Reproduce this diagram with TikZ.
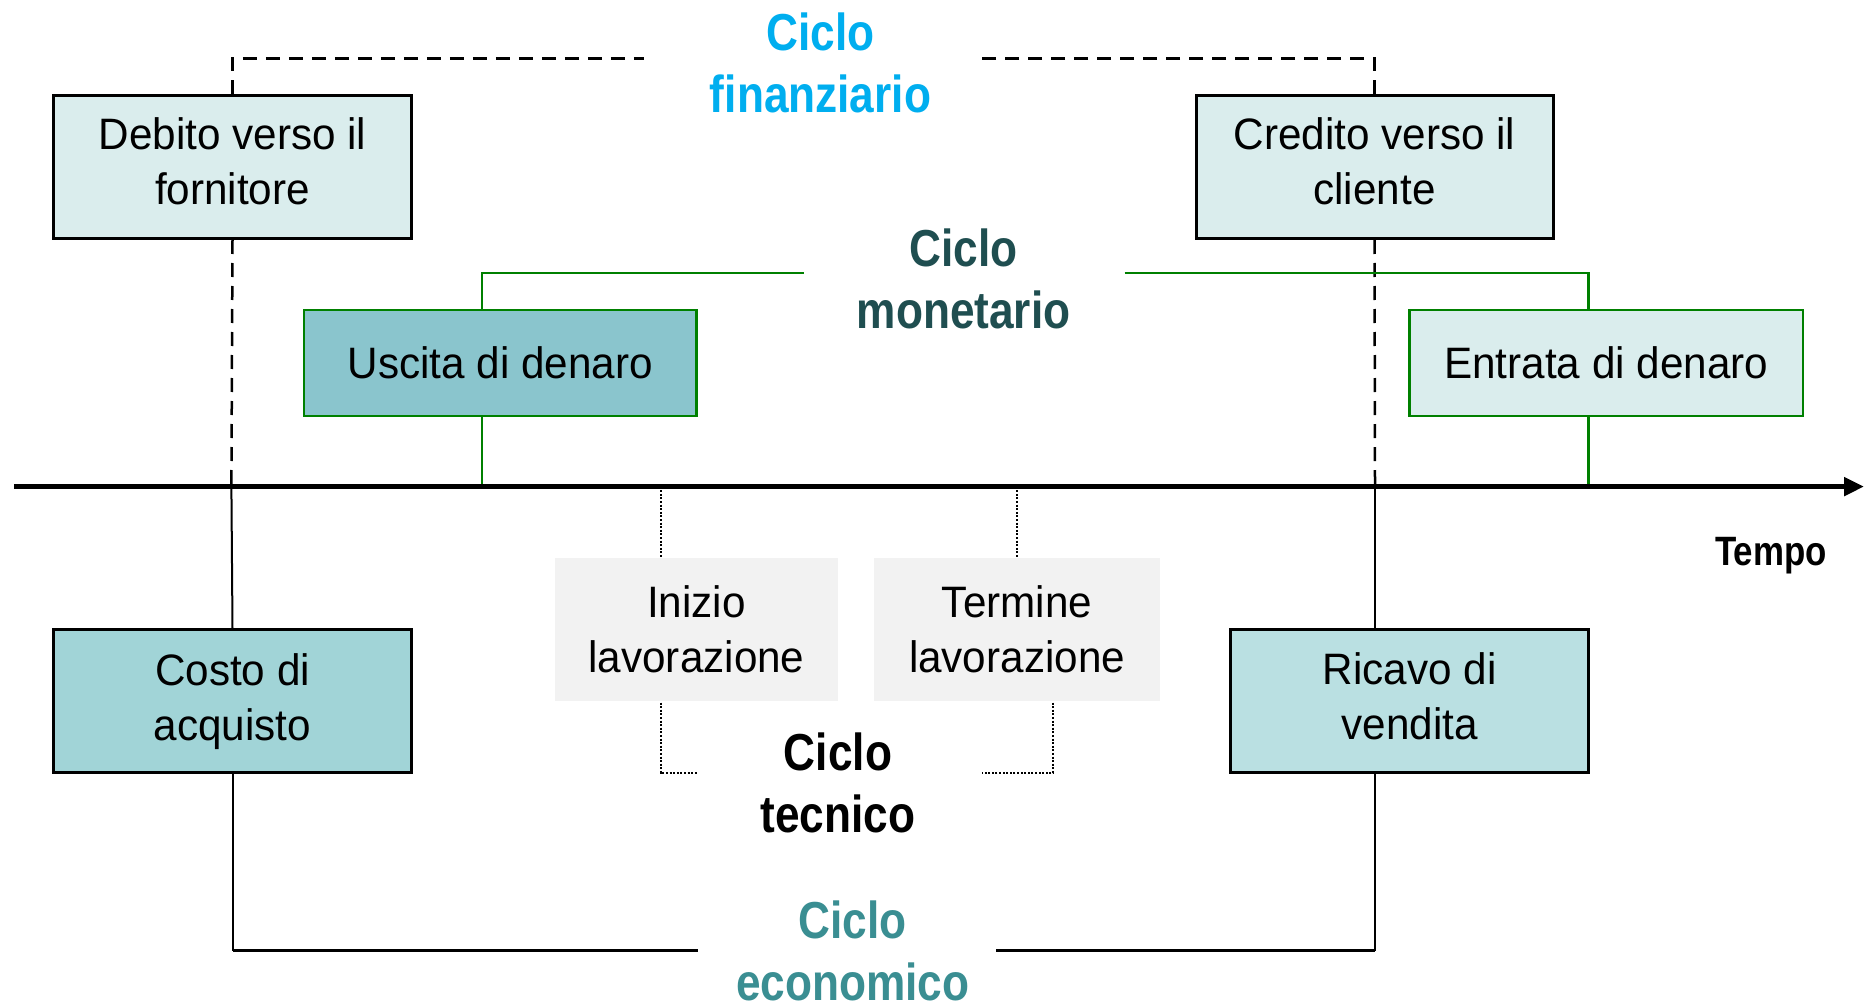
\documentclass[tikz,border=0pt]{standalone}
\usepackage{fontspec}
\setmainfont{Liberation Sans}
\newfontfamily\boxfont{Liberation Sans}[FakeStretch=0.96]
\newfontfamily\headfont{Liberation Sans}[FakeStretch=0.85]
\usetikzlibrary{arrows.meta}
\definecolor{mgreen}{HTML}{008000}
\definecolor{cfin}{HTML}{00AEEF}
\definecolor{cmon}{HTML}{1F4E50}
\definecolor{ceco}{HTML}{3A8E92}
\definecolor{flight}{HTML}{DAEDED}
\definecolor{fusc}{HTML}{8AC5CD}
\definecolor{fcos}{HTML}{A1D4D7}
\definecolor{fric}{HTML}{BAE0E2}
\definecolor{fgray}{HTML}{F2F2F2}
\tikzset{
  box/.style={draw=black, line width=3pt, inner sep=0pt, align=center,
    font=\boxfont\fontsize{44}{55}\selectfont},
  gbox/.style={box, draw=mgreen, line width=2.5pt},
  tbox/.style={box, draw=none},
  head/.style={align=center, font=\headfont\bfseries\fontsize{52}{62}\selectfont},
  dashline/.style={line width=2.5pt, dash pattern=on 14pt off 9pt},
  solidline/.style={line width=2pt},
  dotline/.style={line width=2pt, dash pattern=on 2pt off 1.6pt},
  greenline/.style={draw=mgreen, line width=2.5pt},
}
\begin{document}
\begin{tikzpicture}[x=1pt,y=-1pt]
\useasboundingbox (0,0) rectangle (1870,1008);
% coordinates
\coordinate (axS) at (14,486.6);
\coordinate (axE) at (1864,486.6);
\coordinate (axL) at (231.4,486.6);
\coordinate (axR) at (1375,486.6);
\coordinate (finL) at (644,58.4);
\coordinate (finR) at (980,58.4);
\coordinate (ecoL) at (697.7,950.5);
\coordinate (ecoR) at (995.8,950.5);
\coordinate (monL) at (803.8,273);
\coordinate (monR) at (1124.6,273);
\coordinate (gL) at (481.8,486.6);
\coordinate (gR) at (1588.5,486.6);
\coordinate (tL) at (660.7,486.6);
\coordinate (tR) at (1017,486.6);
\coordinate (tLb) at (660.7,772.8);
\coordinate (tLe) at (697.7,772.8);
\coordinate (tRb) at (1053,772.8);
\coordinate (tRe) at (981.5,772.8);

% boxes
\node[box, fill=flight, minimum width=357.7pt, minimum height=143pt, text depth=11pt] (deb) at (232.5,167) {Debito verso il\\fornitore};
\node[box, fill=flight, minimum width=357pt, minimum height=143pt, text depth=11pt] (cre) at (1374.5,167) {Credito verso il\\cliente};
\node[gbox, fill=fusc, minimum width=392.5pt, minimum height=106pt] (usc) at (500.3,363) {Uscita di denaro};
\node[gbox, fill=flight, minimum width=393.4pt, minimum height=106pt] (ent) at (1606.3,363) {Entrata di denaro};
\node[box, fill=fcos, minimum width=357.7pt, minimum height=143pt] (cos) at (232.5,701.3) {Costo di\\acquisto};
\node[box, fill=fric, minimum width=357.7pt, minimum height=143pt, text depth=10pt] (ric) at (1409.6,701.3) {Ricavo di\\vendita};
\node[tbox, fill=fgray, minimum width=283.8pt, minimum height=143pt] (ini) at (696.5,629.5) {Inizio\\lavorazione};
\node[tbox, fill=fgray, minimum width=286pt, minimum height=143pt] (ter) at (1017,629.5) {Termine\\lavorazione};

% labels
\node[head, text=cfin] (lfin) at (820.5,63) {Ciclo\\finanziario};
\node[head, text=cmon] (lmon) at (963.6,279) {Ciclo\\monetario};
\node[head, text=black] (ltec) at (838,783) {Ciclo\\tecnico};
\node[head, text=ceco] (leco) at (852.7,951) {Ciclo\\economico};
\node[font=\headfont\bfseries\fontsize{41}{46}\selectfont] (ltem) at (1771,556) {Tempo};

% financial cycle (dashed)
\draw[dashline] (deb.north) |- (finL);
\draw[dashline] (cre.north) |- (finR);
\draw[dashline] (deb.south) -- (axL);
\draw[dashline] (cre.south) -- (axR);

% economic cycle (solid)
\draw[solidline] (axL) -- (cos.north);
\draw[solidline] (axR) -- (axR |- ric.north);
\draw[solidline] (cos.south) -- (cos.south |- ecoL);
\draw[line width=3.5pt] (cos.south |- ecoL) -- (ecoL);
\draw[solidline] (axR |- ric.south) -- (axR |- ecoR);
\draw[line width=3.5pt] (axR |- ecoR) -- (ecoR);

% monetary cycle (green)
\draw[greenline] (monL) -| (gL |- usc.north);
\draw[greenline] (monR) -| (gR |- ent.north);
\draw[greenline] (gL |- usc.south) -- (gL);
\draw[greenline] (gR |- ent.south) -- (gR);

% technical cycle (dotted)
\draw[dotline] (tL) -- (tL |- ini.north);
\draw[dotline] (tR) -- (ter.north);
\draw[dotline] (tL |- ini.south) |- (tLe);
\draw[dotline] (tRb |- ter.south) |- (tRe);

% time axis
\draw[line width=5pt, -{Triangle[length=20pt,width=18pt]}] (axS) -- (axE);
\end{tikzpicture}
\end{document}
